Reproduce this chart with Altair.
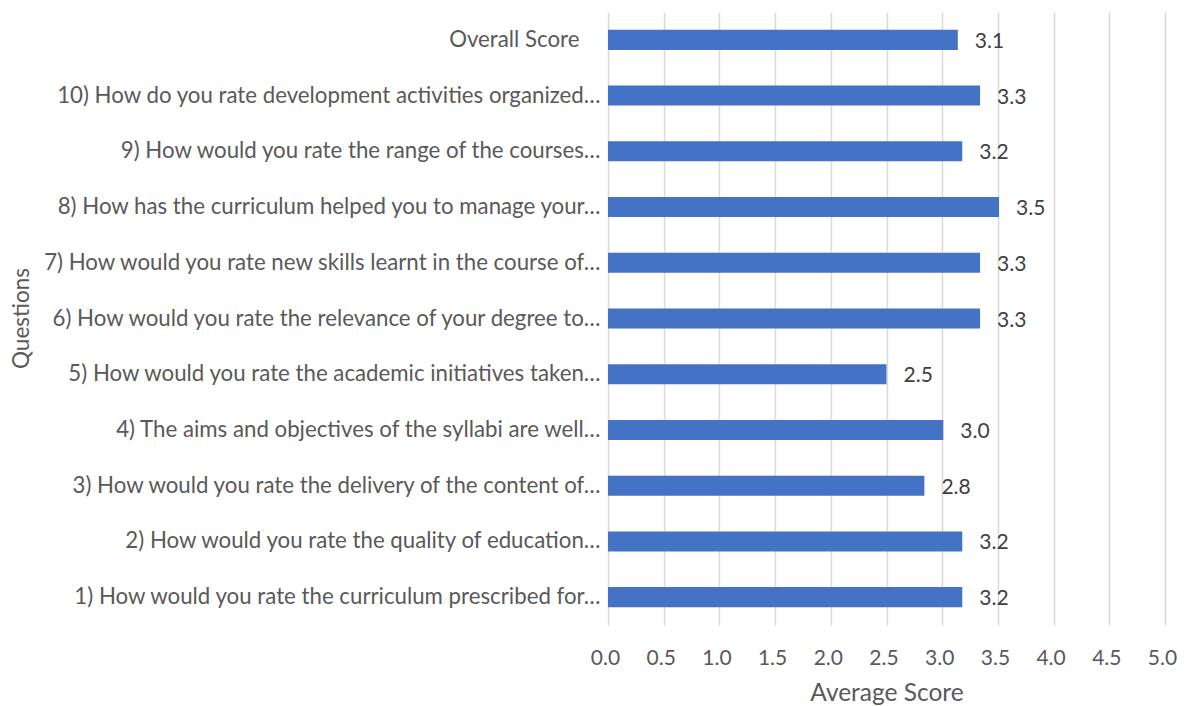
import altair as alt
import pandas as pd

questions = [
    "Overall Score",
    "10) How do you rate development activities organized…",
    "9) How would you rate the range of the courses…",
    "8) How has the curriculum helped you to manage your…",
    "7) How would you rate new skills learnt in the course of…",
    "6) How would you rate the relevance of your degree to…",
    "5) How would you rate the academic initiatives taken…",
    "4) The aims and objectives of the syllabi are well…",
    "3) How would you rate the delivery of the content of…",
    "2) How would you rate the quality of education…",
    "1) How would you rate the curriculum prescribed for…",
]
scores = [3.14, 3.34, 3.18, 3.51, 3.34, 3.34, 2.50, 3.01, 2.84, 3.18, 3.18]

df = pd.DataFrame({"q": questions, "score": scores})

FONT = "Lato"
FS = 21

base = alt.Chart(df).encode(
    y=alt.Y("q:N", sort=questions, title="Questions",
            scale=alt.Scale(paddingInner=0.64, paddingOuter=0.32),
            axis=alt.Axis(domain=False, ticks=False, grid=False,
                          labelPadding={"condition": {"test": "datum.value === 'Overall Score'", "value": 29}, "value": 8},
                          labelLimit=700, labelFontSize=22.25, labelColor="#595959",
                          labelFont=FONT, titleFont=FONT, titleFontSize=22.5,
                          titleFontWeight="normal", titleColor="#595959",
                          titleX=-580, titleY=306, titleAngle=-90,
                          titleAlign="center", titleBaseline="alphabetic")),
)

bars = base.mark_bar(color="#4472C4").encode(
    x=alt.X("score:Q", title="Average Score",
            scale=alt.Scale(domain=[0, 5], nice=False),
            axis=alt.Axis(values=[0, 0.5, 1, 1.5, 2, 2.5, 3, 3.5, 4, 4.5, 5],
                          format=".1f", domain=False, ticks=False,
                          gridColor="#d9d9d9", gridWidth=1.5,
                          labelPadding=22, labelFontSize=FS, labelColor="#595959",
                          labelFont=FONT, labelOffset=-3, labelFlush=False,
                          titleFont=FONT, titleFontSize=24.5,
                          titleFontWeight="normal", titleColor="#595959",
                          titlePadding=13)),
)

labels = base.mark_text(align="left", baseline="middle", dx=17, dy=2,
                        font=FONT, fontSize=FS, color="#404040").encode(
    x="score:Q",
    text=alt.Text("score:Q", format=".1f"),
)

chart = (bars + labels).properties(
    width=557, height=613,
    autosize=alt.AutoSizeParams(type="none"),
    padding={"left": 600, "top": 4, "right": 20, "bottom": 80},
).configure_view(stroke=None)

chart.save("out.html", embed_options={"renderer": "svg", "actions": False})
